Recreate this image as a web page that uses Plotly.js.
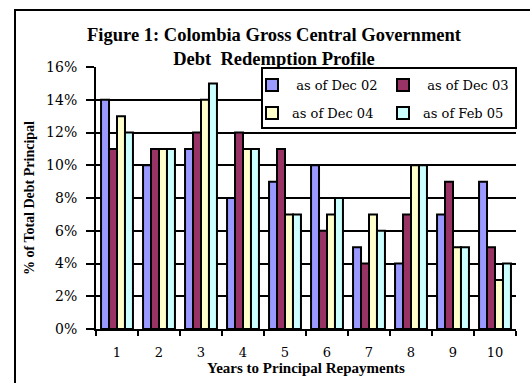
<!DOCTYPE html>
<html>
<head>
<meta charset="utf-8">
<script src="https://cdn.plot.ly/plotly-3.0.1.min.js"></script>
<style>
  html, body { margin: 0; padding: 0; background: #ffffff; }
  #wrap { position: relative; width: 530px; height: 383px; overflow: hidden; }
  #chart { width: 530px; height: 383px; }
  /* outer chart frame: top and left edges run off the page */
  #frame {
    position: absolute; left: 14px; top: 9px; width: 540px; height: 400px;
    border-top: 2px solid #000; border-left: 2px solid #000;
    pointer-events: none;
  }
</style>
</head>
<body>
<div id="wrap">
  <div id="chart"></div>
  <div id="frame"></div>
</div>
<script>
// Years to repayment (categories)
const years = ["1", "2", "3", "4", "5", "6", "7", "8", "9", "10"];

// Share of total debt principal falling due in each year, % (by snapshot date)
const dec02 = [14, 10, 11, 8, 9, 10, 5, 4, 7, 9];
const dec03 = [11, 11, 12, 12, 11, 6, 4, 7, 9, 5];
const dec04 = [13, 11, 14, 11, 7, 7, 7, 10, 5, 3];
const feb05 = [12, 11, 15, 11, 7, 8, 6, 10, 5, 4];

const seriesNames = ["\u00a0as of Dec 02", "\u00a0as of Dec 03", "as of Dec 04", "as of Feb 05"];
const seriesValues = [dec02, dec03, dec04, feb05];
const seriesColors = ["#9999FF", "#993366", "#FFFFCC", "#CCFFFF"];
const seriesLegends = ["legend", "legend2", "legend3", "legend4"];

// bold headings in Liberation Serif, regular labels in DejaVu Serif
const FONT_B = "Liberation Serif";
const FONT_R = "DejaVu Serif";

// Plot area in pixels: x 96..516, y 67..329
const L = 96, R = 516, T = 67, B = 329;
const W = R - L, H = B - T;
const px = x => (x - L) / W;
const py = y => (B - y) / H;

const traces = seriesValues.map((vals, i) => ({
  type: "bar",
  x: years,
  y: vals,
  name: seriesNames[i],
  legend: seriesLegends[i],
  showlegend: true,
  marker: { color: seriesColors[i], line: { color: "#000000", width: 2 } },
  hoverinfo: "x+y+name"
}));

const legendBase = (x, y) => ({
  x: px(x), y: py(y), xanchor: "left", yanchor: "middle",
  bgcolor: "rgba(0,0,0,0)", borderwidth: 0,
  font: { family: FONT_R, size: 13, color: "#000000" },
  itemwidth: 30
});

const layout = {
  width: 530,
  height: 383,
  showlegend: true,
  margin: { l: L, r: 530 - R, t: T, b: 383 - B, pad: 0 },
  paper_bgcolor: "#ffffff",
  plot_bgcolor: "#ffffff",
  font: { family: FONT_R, color: "#000000" },
  barmode: "group",
  bargap: 0.24,
  bargroupgap: 0,
  title: {
    text: "<b>Figure 1: Colombia Gross Central Government<br>Debt\u00a0 Redemption Profile</b>",
    font: { family: FONT_B, size: 18.5, color: "#000000" },
    x: px(274), xref: "paper", xanchor: "center",
    y: 1 - 41 / 383, yref: "container", yanchor: "top"
  },
  xaxis: {
    type: "category",
    showline: true, linecolor: "#000000", linewidth: 2,
    showgrid: false,
    ticks: "outside", tickson: "boundaries", ticklen: 5, tickwidth: 2, tickcolor: "#000000",
    ticklabelstandoff: 10,
    tickfont: { family: FONT_R, size: 13, color: "#000000" },
    title: {
      text: "<b>Years to Principal Repayments</b>",
      font: { family: FONT_B, size: 15, color: "#000000" },
      standoff: 3
    },
    fixedrange: true
  },
  yaxis: {
    range: [0, 16],
    dtick: 2,
    ticksuffix: "%",
    showline: true, linecolor: "#000000", linewidth: 2,
    showgrid: true, gridcolor: "#000000", gridwidth: 2,
    zeroline: false,
    ticks: "outside", ticklen: 8, tickwidth: 2, tickcolor: "#000000",
    ticklabelstandoff: 6,
    tickfont: { family: FONT_R, size: 14, color: "#000000" },
    title: {
      text: "<b>% of Total Debt Principal</b>",
      font: { family: FONT_B, size: 14, color: "#000000" },
      standoff: 8
    },
    fixedrange: true
  },
  legend: legendBase(252, 85),
  legend2: legendBase(383, 85),
  legend3: legendBase(252, 113),
  legend4: legendBase(383, 113),
  shapes: [
    // legend box
    { type: "rect", xref: "paper", yref: "paper", layer: "above",
      x0: px(262), x1: px(516), y0: py(68), y1: py(128),
      fillcolor: "#ffffff", line: { color: "#000000", width: 2 } }
  ]
};

Plotly.newPlot("chart", traces, layout, { displayModeBar: false, staticPlot: true });
</script>
</body>
</html>
